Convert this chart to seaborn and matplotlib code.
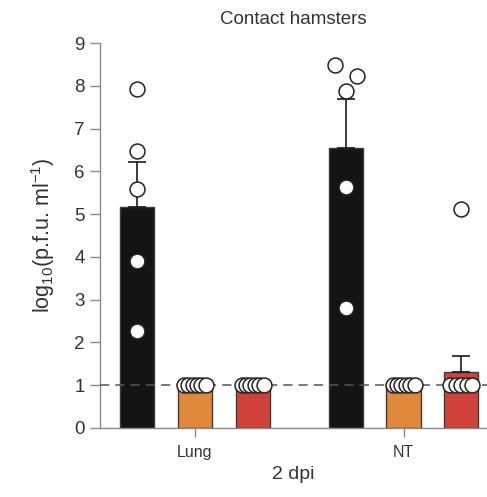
import matplotlib
matplotlib.use("Agg")
import matplotlib.pyplot as plt
from matplotlib.container import BarContainer
import seaborn as sns
import numpy as np
import pandas as pd

# ---- data ----
tissues = ["Lung", "NT"]
groups = ["Group 1", "Group 2", "Group 3"]
colors = ["#141414", "#E0883B", "#D0413A"]

# bar heights (mean) and upper error (s.e.m.) per tissue, per group
lung_means = [5.17, 1.0, 1.0]
nt_means = [6.55, 1.0, 1.30]
lung_sem = [1.05, 0.0, 0.0]
nt_sem = [1.14, 0.0, 0.38]

# individual animals
lung_pts = [
    [7.92, 6.48, 5.59, 3.91, 2.27],
    [1, 1, 1, 1, 1, 1],
    [1, 1, 1, 1, 1, 1],
]
nt_pts = [
    [8.49, 8.24, 7.88, 5.63, 2.81],
    [1, 1, 1, 1, 1, 1],
    [5.12, 1, 1, 1, 1, 1],
]

detection_limit = 1.0
yticks = list(range(0, 10))

sns.set_style("ticks")
plt.rcParams['font.family'] = ['Liberation Sans', 'DejaVu Sans']
plt.rcParams['mathtext.fontset'] = 'custom'
plt.rcParams['mathtext.rm'] = 'Liberation Sans'
plt.rcParams['mathtext.default'] = 'rm'
txt = "#333333"
grey = "#8a8a8a"

df = pd.DataFrame({
    "tissue": [t for t in tissues for _ in groups],
    "group": groups * len(tissues),
    "mean": lung_means + nt_means,
})

fig = plt.figure(figsize=(4.87, 4.97), dpi=100)
ax = fig.add_axes([0.205, 0.139, 0.795, 0.774])

sns.barplot(data=df, x="tissue", y="mean", hue="group", order=tissues,
            hue_order=groups, palette=colors, width=0.83, gap=0.41,
            saturation=1, errorbar=None, edgecolor="#3c3c3c", linewidth=1.0,
            legend=False, ax=ax, zorder=2)

ax.set_xlim(-0.455, 1.40)
ax.set_ylim(0, 9)
fig.canvas.draw()

ax.axhline(detection_limit, ls=(0, (6, 4)), color="#555555", lw=1.1, zorder=3)

pts_all = {"Lung": lung_pts, "NT": nt_pts}
sem_all = {"Lung": lung_sem, "NT": nt_sem}

# px per data unit, to lay out points like a beeswarm
p0 = ax.transData.transform((0, 0))
p1 = ax.transData.transform((1, 1))
px_x = p1[0] - p0[0]
px_y = p1[1] - p0[1]
diam = 16.0


def swarm(vals, half):
    vals = np.asarray(vals, dtype=float)
    offs = np.zeros(len(vals))
    # identical values (floor) spread across the bar
    for v in np.unique(vals):
        idx = np.where(vals == v)[0]
        if len(idx) > 1:
            offs[idx] = np.linspace(-half, half, len(idx))
    single = [i for i in range(len(vals)) if np.sum(vals == vals[i]) == 1]
    placed = []
    for i in sorted(single, key=lambda k: vals[k]):
        for cand in [0, 11, -11, 22, -22]:
            ok = all(np.hypot(cand - ox, (vals[i] - vy) * px_y) >= diam
                     for ox, vy in placed)
            if ok:
                break
        offs[i] = cand
        placed.append((cand, vals[i]))
    return offs / px_x


bar_conts = [c for c in ax.containers if isinstance(c, BarContainer)]
xs, ys = [], []
for h, cont in enumerate(bar_conts):
    for t, bar in enumerate(cont.patches):
        tissue = tissues[t]
        cx = bar.get_x() + bar.get_width() / 2
        m = bar.get_height()
        s = sem_all[tissue][h]
        if s > 0:
            ax.errorbar([cx], [m], yerr=[[0], [s]], fmt="none", ecolor="#1a1a1a",
                        elinewidth=1.2, capsize=6.5, capthick=1.2, zorder=4)
        vals = pts_all[tissue][h]
        offs = swarm(vals, 11.0)
        xs += list(cx + offs)
        ys += list(vals)

sns.scatterplot(x=xs, y=ys, s=115, color="white", edgecolor="#222222",
                linewidth=1.1, ax=ax, zorder=5, clip_on=False)

# axes styling
sns.despine(ax=ax)
for sp in ["left", "bottom"]:
    ax.spines[sp].set_color(grey)
    ax.spines[sp].set_linewidth(1.0)
ax.set_yticks(yticks)
ax.set_xticks([0, 1])
ax.set_xticklabels(tissues)
ax.tick_params(axis="y", length=7, width=1.0, color=grey, labelsize=13.5,
               labelcolor=txt, pad=4)
ax.tick_params(axis="x", length=6.5, width=1.0, color=grey, labelsize=11.5,
               labelcolor=txt, pad=6)

ax.set_ylabel("log$_{10}$(p.f.u. ml$^{-1}$)", fontsize=15.5, color=txt, labelpad=12)
ax.set_xlabel("2 dpi", fontsize=14, color=txt, labelpad=4)
ax.set_title("Contact hamsters", fontsize=13.5, color=txt, pad=14)

fig.savefig("out.png", dpi=100)
